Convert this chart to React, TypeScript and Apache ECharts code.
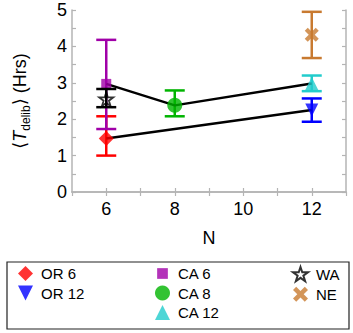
import React, { useEffect, useRef } from "react";
import * as echarts from "echarts";

const names = ["OR 6", "OR 12", "CA 6", "CA 8", "CA 12", "WA", "NE"];
const xs = [6, 12, 6, 8, 12, 6, 12];
const means = [1.47, 2.25, 2.97, 2.38, 2.98, 2.55, 4.32];
const lows = [1.0, 1.93, 1.73, 2.08, 2.77, 2.33, 3.68];
const highs = [2.08, 2.57, 4.18, 2.79, 3.2, 2.83, 4.95];
const colors = ["#ff0000", "#0000ff", "#a000a8", "#00b400", "#22cccc", "#000000", "#c87a30"];
const symbols = [
  "diamond",
  "path://M0,0 L12,0 L6,12 Z",
  "path://M0,0 M14,14 M2,2 L12,2 L12,12 L2,12 Z",
  "circle",
  "triangle",
  "path://M50,0 L61.8,35.5 L100,35.5 L69.1,57.7 L80.9,95 L50,72.4 L19.1,95 L30.9,57.7 L0,35.5 L38.2,35.5 Z",
  "path://M3,0 L7,4 L11,0 L14,3 L10,7 L14,11 L11,14 L7,10 L3,14 L0,11 L4,7 L0,3 Z",
];
const sizes = [15, 13, 14, 15, 13, 14, 14];
const upperLine = ["CA 6", "CA 8", "CA 12"];
const lowerLine = ["OR 6", "OR 12"];
const legendCols = [["OR 6", "OR 12"], ["CA 6", "CA 8", "CA 12"], ["WA", "NE"]];

const FONT = "Liberation Sans, Arial, DejaVu Sans, sans-serif";

export default function App() {
  const ref = useRef<HTMLDivElement>(null);
  useEffect(() => {
    const chart = echarts.init(ref.current!, null, { renderer: "svg" });
    const pt = (n: string) => {
      const i = names.indexOf(n);
      return [xs[i], means[i]];
    };
    const errSeries = names.map((n, i) => ({
      type: "custom",
      name: n + " err",
      xAxisIndex: 0,
      yAxisIndex: 0,
      z: n === "WA" ? 6 : 3,
      data: [[xs[i], lows[i], highs[i]]],
      renderItem: (params: any, api: any) => {
        const x = api.value(0);
        const lo = api.coord([x, api.value(1)]);
        const hi = api.coord([x, api.value(2)]);
        const w = 10;
        const style = { stroke: colors[i], lineWidth: 2.5, fill: "none" };
        return {
          type: "group",
          children: [
            { type: "line", shape: { x1: lo[0], y1: lo[1], x2: hi[0], y2: hi[1] }, style },
            { type: "line", shape: { x1: lo[0] - w, y1: lo[1], x2: lo[0] + w, y2: lo[1] }, style },
            { type: "line", shape: { x1: hi[0] - w, y1: hi[1], x2: hi[0] + w, y2: hi[1] }, style },
          ],
        };
      },
    }));
    const lineSeries = [upperLine, lowerLine].map((l) => ({
      type: "line",
      z: 4,
      data: l.map(pt),
      symbol: "none",
      lineStyle: { color: "#000", width: 2.5 },
    }));
    const scatterSeries = names.map((n, i) => ({
      type: "scatter",
      name: n,
      z: 5,
      data: [[xs[i], means[i]]],
      symbol: symbols[i],
      symbolSize: sizes[i],
      itemStyle:
        n === "WA"
          ? { color: "rgba(255,255,255,0)", borderColor: "#000", borderWidth: 1.8 }
          : { color: colors[i] },
    }));
    const axisCommon = {
      axisLine: { show: true, lineStyle: { color: "#b4b4b4", width: 1.5 } },
      axisTick: { show: true, inside: true, length: 4, lineStyle: { color: "#b4b4b4", width: 1.2 } },
      splitLine: { show: false },
    };
    const legendLefts = [18, 155, 292];
    chart.setOption({
      animation: false,
      grid: { left: 50, right: 7, top: 10, bottom: 141 },
      xAxis: [
        {
          type: "value",
          min: 5,
          max: 13,
          interval: 1,
          position: "bottom",
          ...axisCommon,
          axisLabel: {
            color: "#000",
            fontSize: 18,
            fontFamily: FONT,
            margin: 8,
            formatter: (v: number) => (v % 2 === 0 ? String(v) : ""),
            showMinLabel: false,
            showMaxLabel: false,
          },
          name: "N",
          nameLocation: "middle",
          nameGap: 37,
          nameTextStyle: { color: "#000", fontSize: 18, fontFamily: FONT },
        },
        {
          type: "value",
          min: 5,
          max: 13,
          interval: 1,
          position: "top",
          ...axisCommon,
          axisLabel: { show: false },
        },
      ],
      yAxis: [
        {
          type: "value",
          min: 0,
          max: 5,
          interval: 0.5,
          position: "left",
          ...axisCommon,
          axisLabel: {
            color: "#000",
            fontSize: 18,
            fontFamily: FONT,
            margin: 5,
            formatter: (v: number) => (Number.isInteger(v) ? String(v) : ""),
          },
          name: "⟨{it|T}{sub|delib}⟩ (Hrs)",
          nameLocation: "middle",
          nameGap: 40,
          nameTextStyle: {
            color: "#000",
            fontSize: 18,
            fontFamily: FONT,
            lineHeight: 24,
            rich: {
              it: { fontStyle: "italic", fontSize: 18, fontFamily: FONT, lineHeight: 24, verticalAlign: "middle" },
              sub: { fontSize: 12, fontFamily: FONT, lineHeight: 24, verticalAlign: "bottom" },
            },
          },
        },
        {
          type: "value",
          min: 0,
          max: 5,
          interval: 0.5,
          position: "right",
          ...axisCommon,
          axisLabel: { show: false },
        },
      ],
      legend: legendCols.map((col, k) => ({
        data: col,
        orient: "vertical",
        left: legendLefts[k],
        top: 266,
        itemWidth: 15,
        itemHeight: 15,
        itemGap: 4.5,
        padding: 0,
        textStyle: { color: "#000", fontSize: 15, fontFamily: FONT, padding: [0, 0, 0, 3] },
        selectedMode: false,
      })),
      graphic: [
        {
          type: "rect",
          shape: { x: 7, y: 262, width: 342, height: 67 },
          style: { fill: "none", stroke: "#222", lineWidth: 1.2 },
        },
      ],
      series: [...errSeries, ...lineSeries, ...scatterSeries],
    });
    return () => chart.dispose();
  }, []);
  return <div ref={ref} style={{ width: 353, height: 333, position: "absolute", left: 0, top: 0 }} />;
}
